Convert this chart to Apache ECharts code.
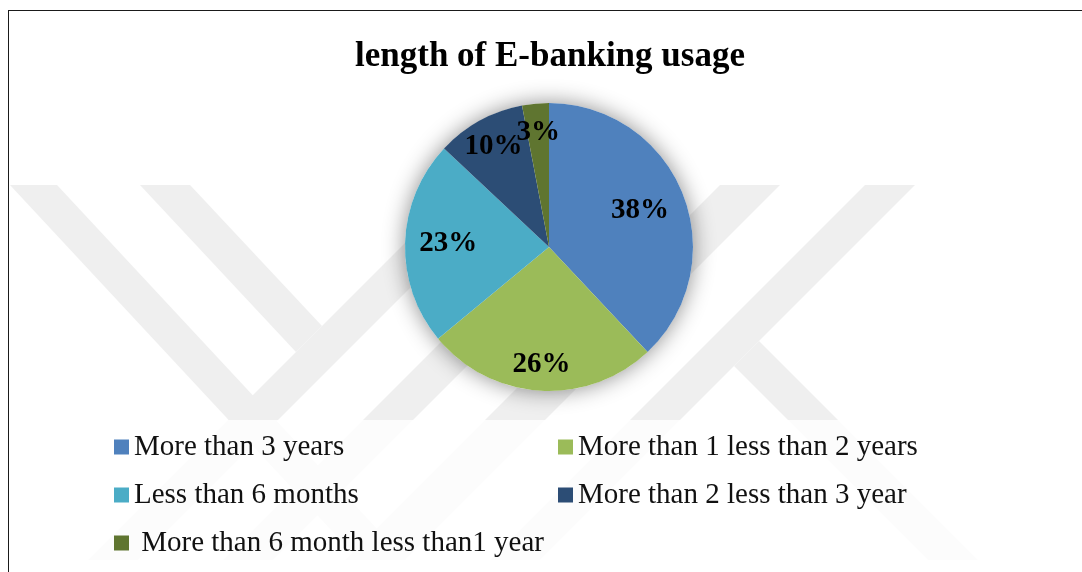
<!DOCTYPE html>
<html>
<head>
<meta charset="utf-8">
<title>length of E-banking usage</title>
<script src="https://cdn.jsdelivr.net/npm/echarts@6/dist/echarts.min.js"></script>
<style>
  html, body { margin: 0; padding: 0; background: #fff; }
  #wrap { position: relative; width: 1082px; height: 572px; overflow: hidden; }
  #chart { width: 1082px; height: 572px; }
  #frame {
    position: absolute; left: 8px; top: 10px; right: -20px; bottom: -20px;
    border-left: 1.5px solid #1a1a1a; border-top: 1.5px solid #1a1a1a;
    pointer-events: none;
  }
</style>
</head>
<body>
<div id="wrap">
  <div id="chart"></div>
  <div id="frame"></div>
</div>
<script>
// Survey answers: how long respondents have used e-banking
const categories = [
  'More than 3 years',
  'More than 1 less than 2 years',
  'Less than 6 months',
  'More than 2 less than 3 year',
  ' More than 6 month less than1 year'
];
const shares = [38, 26, 23, 10, 3];
const sliceColors = ['#4F81BD', '#9BBB59', '#4BACC6', '#2C4D75', '#5F7530'];
// how far out (as a fraction of the radius) each percentage label sits
const labelDepth = [0.68, 0.82, 0.70, 0.80, 0.80];

const CENTER = [549, 247];
const RADIUS = 144;
const SERIF = '"Liberation Serif", "Times New Roman", serif';
const BAND = '#efefef';

const total = shares.reduce((a, b) => a + b, 0);
const midAngle = shares.map((v, i) => {
  const before = shares.slice(0, i).reduce((a, b) => a + b, 0);
  return ((before + v / 2) / total) * Math.PI * 2; // clockwise from 12 o'clock
});

// faint background emblem made of diagonal bands
const bands = [
  [[10, 185], [57, 185], [406, 560], [359, 560]],
  [[463, 185], [513, 185], [138, 560], [88, 560]],
  [[140, 185], [190, 185], [322, 326], [296, 352]],
  [[598, 185], [648, 185], [273, 560], [223, 560]],
  [[720, 185], [780, 185], [405, 560], [345, 560]],
  [[865, 185], [915, 185], [540, 560], [490, 560]],
  [[759, 341], [978, 560], [928, 560], [734, 366]]
];
const emblem = bands.map(pts => ({
  type: 'polygon', silent: true, z: -10,
  shape: { points: pts },
  style: { fill: BAND }
}));
emblem.push({
  type: 'rect', silent: true, z: -9,
  shape: { x: 0, y: 420, width: 1082, height: 152 },
  style: { fill: 'rgba(255,255,255,0.8)' }
});

const chart = echarts.init(document.getElementById('chart'), null, { renderer: 'canvas' });

const legendText = { fontFamily: SERIF, fontSize: 29, color: '#111', lineHeight: 30 };

chart.setOption({
  animation: false,
  backgroundColor: '#ffffff',
  title: {
    text: 'length of E-banking usage',
    left: 350,
    top: 34,
    textStyle: { fontFamily: SERIF, fontSize: 35, fontWeight: 'bold', color: '#000' }
  },
  graphic: emblem,
  legend: [
    {
      orient: 'vertical', left: 109, top: 427, itemGap: 18,
      itemWidth: 15, itemHeight: 15, icon: 'rect',
      data: [categories[0], categories[2], categories[4]],
      textStyle: legendText
    },
    {
      orient: 'vertical', left: 553, top: 427, itemGap: 18,
      itemWidth: 15, itemHeight: 15, icon: 'rect',
      data: [categories[1], categories[3]],
      textStyle: legendText
    }
  ],
  series: [
    {
      // soft halo under the pie
      type: 'pie', silent: true, z: 1,
      center: CENTER, radius: RADIUS,
      label: { show: false }, labelLine: { show: false },
      itemStyle: {
        color: '#ffffff',
        shadowBlur: 22, shadowColor: 'rgba(0,0,0,0.45)',
        shadowOffsetX: 0, shadowOffsetY: 0
      },
      data: [{ value: 1, name: '__halo' }]
    },
    {
      type: 'pie', z: 2,
      center: CENTER, radius: RADIUS,
      startAngle: 90, clockwise: true,
      avoidLabelOverlap: false,
      itemStyle: { borderWidth: 0 },
      label: {
        show: true, position: 'inside',
        formatter: p => p.value + '%',
        fontFamily: SERIF, fontSize: 29, fontWeight: 'bold', color: '#000'
      },
      labelLine: { show: false },
      labelLayout: params => {
        const i = params.dataIndex;
        const a = midAngle[i];
        const r = RADIUS * labelDepth[i];
        return {
          x: CENTER[0] + r * Math.sin(a),
          y: CENTER[1] - r * Math.cos(a),
          align: 'center',
          verticalAlign: 'middle'
        };
      },
      emphasis: { disabled: true },
      data: categories.map((name, i) => ({
        name, value: shares[i], itemStyle: { color: sliceColors[i] }
      }))
    }
  ]
});
</script>
</body>
</html>
